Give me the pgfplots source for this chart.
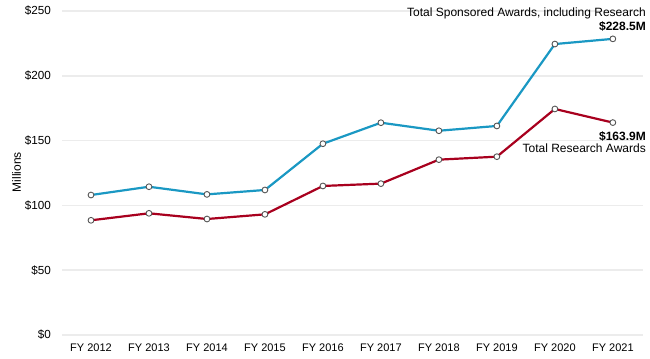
\documentclass[border=0pt]{standalone}
\usepackage{pgfplots}
\pgfplotsset{compat=1.18}
\usepackage{fontspec}
\setmainfont{Liberation Sans}
\definecolor{sblue}{HTML}{1A98C3}
\definecolor{sred}{HTML}{A8001E}
\definecolor{gridc}{HTML}{ECECEC}
\definecolor{mk}{HTML}{555555}
\pgfplotstableread{
x blue red
0 108.0 88.5
1 114.4 93.9
2 108.5 89.5
3 111.9 93.1
4 147.6 115.0
5 163.8 116.8
6 157.6 135.3
7 161.3 137.6
8 224.5 174.4
9 228.5 163.9
}\datatable
\begin{document}
\begin{tikzpicture}
\path[use as bounding box] (0bp,0bp) rectangle (650bp,359bp);
\begin{axis}[
  at={(62bp,24bp)}, anchor=south west,
  scale only axis, width=581bp, height=324bp,
  xmin=-0.5, xmax=9.52, ymin=0, ymax=250,
  axis line style={draw=none},
  xtick={0,...,9},
  xticklabels={FY 2012,FY 2013,FY 2014,FY 2015,FY 2016,FY 2017,FY 2018,FY 2019,FY 2020,FY 2021},
  ytick={0,50,...,250},
  yticklabels={\$0,\$50,\$100,\$150,\$200,\$250},
  major tick length=0pt,
  tick style={draw=none},
  ymajorgrids=true,
  grid style={gridc, line width=1.6bp},
  xticklabel style={font=\fontsize{11bp}{13bp}\selectfont, anchor=north, inner sep=0pt, yshift=-9bp},
  yticklabel style={font=\fontsize{11.7bp}{13bp}\selectfont, anchor=east, inner sep=0pt, xshift=-11bp},
  clip=false,
]
\addplot[sblue, line width=2.2bp, mark=*, mark size=2.9bp, mark options={fill=white, draw=mk, line width=0.9bp}] table[x=x, y=blue] {\datatable};
\addplot[sred, line width=2.2bp, mark=*, mark size=2.9bp, mark options={fill=white, draw=mk, line width=0.9bp}] table[x=x, y=red] {\datatable};
\end{axis}
\node[rotate=90, font=\fontsize{12bp}{14bp}\selectfont, inner sep=0pt] at (16.5bp,187bp) {Millions};
\node[anchor=base east, inner sep=0pt, font=\fontsize{12bp}{14bp}\selectfont] at (646bp,342.3bp) {Total Sponsored Awards, including Research};
\node[anchor=base east, inner sep=0pt, font=\fontsize{12bp}{14bp}\selectfont\bfseries] at (646bp,328bp) {\$228.5M};
\node[anchor=base east, inner sep=0pt, font=\fontsize{12bp}{14bp}\selectfont\bfseries] at (646bp,218.7bp) {\$163.9M};
\node[anchor=base east, inner sep=0pt, font=\fontsize{12bp}{14bp}\selectfont] at (646bp,206.3bp) {Total Research Awards};
\end{tikzpicture}
\end{document}
